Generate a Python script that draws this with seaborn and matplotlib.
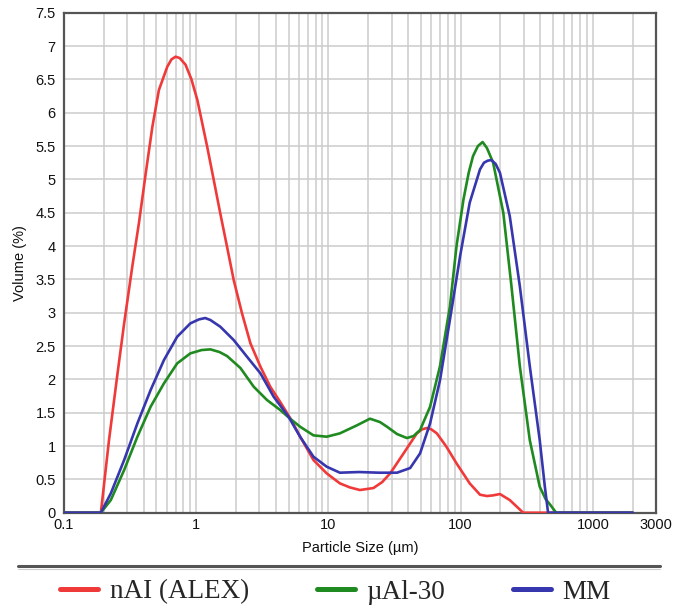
import matplotlib
matplotlib.use("Agg")
import matplotlib.pyplot as plt
import matplotlib.ticker as mticker
from matplotlib.lines import Line2D
import seaborn as sns
import pandas as pd

# ---------------- data ----------------
red_x = [0.1, 0.19, 0.219, 0.254, 0.285, 0.33, 0.369, 0.415, 0.466, 0.522, 0.604, 0.65, 0.698,
         0.75, 0.83, 0.92, 1.02, 1.21, 1.36, 1.52, 1.71, 1.92, 2.22, 2.57, 3.06, 3.63, 4.32, 5.13,
         6.11, 7.7, 9.7, 12.2, 14.5, 17.3, 21.9, 25.5, 29.3, 37, 46.6, 51, 55.4, 60, 66, 78, 93, 117, 140,
         158, 176, 198, 235, 297, 2000]
red_y = [0, 0, 1.09, 2.09, 2.84, 3.72, 4.35, 5.09, 5.79, 6.34, 6.69, 6.80, 6.84,
         6.82, 6.72, 6.50, 6.19, 5.49, 4.98, 4.49, 3.99, 3.49, 2.99, 2.54, 2.19, 1.89, 1.66, 1.42,
         1.14, 0.79, 0.59, 0.44, 0.38, 0.34, 0.37, 0.46, 0.59, 0.89, 1.19, 1.25, 1.27, 1.25, 1.19, 0.99, 0.74, 0.44, 0.27,
         0.25, 0.26, 0.28, 0.19, 0, 0]

green_x = [0.1, 0.19, 0.226, 0.285, 0.359, 0.452, 0.57, 0.718, 0.903, 1.1, 1.28, 1.5, 1.71,
           2.16, 2.72, 3.43, 4.32, 5.13, 6.1, 7.7, 9.7, 12.2, 16.4, 20.6, 24.5, 27.7, 33,
           39.2, 44, 49.3, 58.7, 69.8, 83, 93, 105, 115, 124, 135, 146.5, 158, 176, 210, 242, 280, 333,
           396, 440, 471, 527, 2000]
green_y = [0, 0, 0.19, 0.64, 1.14, 1.59, 1.94, 2.24, 2.39, 2.44, 2.45, 2.41, 2.35,
           2.17, 1.89, 1.69, 1.54, 1.41, 1.29, 1.16, 1.14, 1.19, 1.31, 1.41, 1.36, 1.29, 1.18,
           1.12, 1.15, 1.24, 1.59, 2.2, 3.1, 4.0, 4.7, 5.1, 5.35, 5.5, 5.56, 5.47, 5.25, 4.5, 3.4, 2.2, 1.09,
           0.39, 0.2, 0.13, 0, 0]

blue_x = [0.1, 0.19, 0.226, 0.285, 0.359, 0.452, 0.57, 0.718, 0.903, 1.05, 1.17, 1.28, 1.52,
          1.92, 2.42, 3.06, 3.85, 4.99, 6.1, 7.7, 9.7, 12.2, 17, 24, 33, 41.5, 49.3, 58.7,
          69.8, 83, 99, 117, 140, 150, 160, 171, 184, 198, 235, 280, 333, 396, 433, 458, 2000]
blue_y = [0, 0, 0.29, 0.79, 1.34, 1.84, 2.29, 2.64, 2.84, 2.90, 2.92, 2.89, 2.79,
          2.59, 2.34, 2.09, 1.74, 1.44, 1.14, 0.84, 0.69, 0.6, 0.61, 0.6, 0.6, 0.67, 0.89, 1.34,
          1.99, 2.9, 3.85, 4.65, 5.15, 5.25, 5.28, 5.29, 5.23, 5.1, 4.45, 3.4, 2.2, 1.09, 0.39, 0, 0]

series_names = ["nAI (ALEX)", "\u00b5Al-30", "MM"]
series_colors = ["#f03a3a", "#1f8a1f", "#3636ae"]

x_ticks = [0.1, 1, 10, 100, 1000, 3000]
x_tick_labels = ["0.1", "1", "10", "100", "1000", "3000"]
y_ticks = [i * 0.5 for i in range(16)]

# ---------------- plot ----------------
sns.set_style("white")
plt.rcParams["font.family"] = ["Liberation Sans", "DejaVu Sans"]

fig = plt.figure(figsize=(6.79, 6.08), dpi=100)
W, H = 679, 608
left, right, top, bottom = 64, 656, 12.7, 512.7
ax = fig.add_axes([left / W, 1 - bottom / H, (right - left) / W, (bottom - top) / H])

for xs, ys, col in zip([red_x, green_x, blue_x], [red_y, green_y, blue_y], series_colors):
    df = pd.DataFrame({"x": xs, "y": ys})
    sns.lineplot(data=df, x="x", y="y", color=col, linewidth=1.9, ax=ax,
                 estimator=None, sort=False, zorder=3)

ax.set_xscale("log")
ax.set_xlim(0.1, 3000)
ax.set_ylim(0, 7.5)
ax.xaxis.set_major_locator(mticker.FixedLocator(x_ticks))
ax.xaxis.set_major_formatter(mticker.FixedFormatter(x_tick_labels))
ax.xaxis.set_minor_locator(mticker.LogLocator(base=10, subs=range(2, 10), numticks=20))
ax.xaxis.set_minor_formatter(mticker.NullFormatter())
ax.set_yticks(y_ticks)
ax.set_yticklabels([f"{v:g}" for v in y_ticks])

ax.grid(True, which="both", axis="x", color="#cccccc", linewidth=1.1, zorder=0)
ax.grid(True, which="major", axis="y", color="#cccccc", linewidth=1.1, zorder=0)
ax.set_axisbelow(True)

ax.tick_params(axis="both", which="both", length=0, labelsize=10.5, colors="#111111")
ax.tick_params(axis="x", pad=4)
ax.tick_params(axis="y", pad=6)

for s in ax.spines.values():
    s.set_color("#555555")
    s.set_linewidth(1.6)

ax.set_xlabel("Particle Size (\u00b5m)", fontsize=10.5, labelpad=6, color="#111111")
ax.set_ylabel("Volume (%)", fontsize=10.5, labelpad=6, color="#111111")

# separator line above the legend
fig.add_artist(Line2D([18 / W, 660 / W], [1 - 566 / H, 1 - 566 / H],
                      color="#555555", linewidth=2.2, transform=fig.transFigure))
fig.add_artist(Line2D([18 / W, 660 / W], [1 - 569 / H, 1 - 569 / H],
                      color="#cccccc", linewidth=0.8, transform=fig.transFigure))

handles = [Line2D([0], [0], color=c, linewidth=3.6) for c in series_colors]
fig.legend(handles, series_names, loc="center", bbox_to_anchor=(0.494, 1 - 592 / H),
           ncol=3, frameon=False, handlelength=1.4, handletextpad=0.43,
           columnspacing=2.5,
           prop={"family": ["Liberation Serif", "DejaVu Serif"], "size": 19.5})

fig.savefig("out.png", dpi=100)
